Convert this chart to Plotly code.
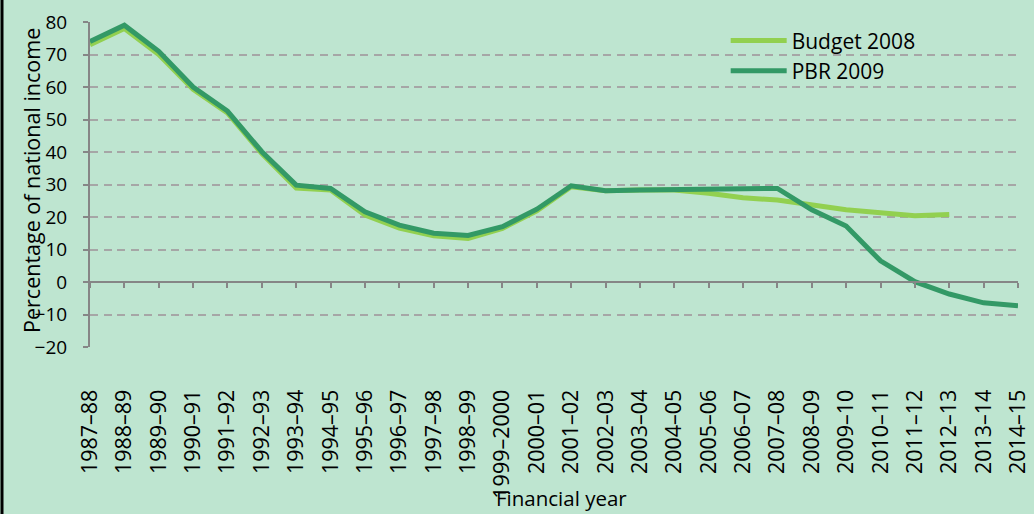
import plotly.graph_objects as go

categories = ["1987–88", "1988–89", "1989–90", "1990–91", "1991–92", "1992–93",
              "1993–94", "1994–95", "1995–96", "1996–97", "1997–98", "1998–99",
              "1999–2000", "2000–01", "2001–02", "2002–03", "2003–04", "2004–05",
              "2005–06", "2006–07", "2007–08", "2008–09", "2009–10", "2010–11",
              "2011–12", "2012–13", "2013–14", "2014–15"]

budget_2008 = [73, 78, 70, 59.3, 52, 39.5, 28.9, 28.3, 20.6, 16.6, 14.2, 13.4,
               16.5, 21.9, 29.3, 28.1, 28.3, 28.3, 27.3, 25.9, 25.2, 23.7, 22.2,
               21.3, 20.4, 20.8, None, None]

pbr_2009 = [74, 79, 71, 60, 52.6, 40.1, 29.8, 28.8, 21.6, 17.5, 15.0, 14.3,
            17.0, 22.4, 29.6, 28.1, 28.3, 28.5, 28.6, 28.7, 28.8, 22.2, 17.2,
            6.5, 0.1, -3.7, -6.4, -7.3]

y_ticks = [-20, -10, 0, 10, 20, 30, 40, 50, 60, 70, 80]

BG = "#bee5d0"
GRID = "#a6a6a6"
AXIS = "#868686"
FONT = "Open Sans"

PW = 928.0  # plot width in px
PH = 325.0  # plot height in px

n = len(categories)

fig = go.Figure()
fig.add_trace(go.Scatter(x=categories, y=budget_2008, mode="lines",
                         name="Budget 2008",
                         line=dict(color="#92d050", width=5)))
fig.add_trace(go.Scatter(x=categories, y=pbr_2009, mode="lines",
                         name="PBR 2009",
                         line=dict(color="#339966", width=5)))
# helper trace so the category-tick axis drawn on the zero line exists
fig.add_trace(go.Scatter(x=[0, n - 1], y=[0, 0], xaxis="x2", mode="lines",
                         line=dict(width=0, color="rgba(0,0,0,0)"),
                         showlegend=False, hoverinfo="skip"))

fig.update_layout(
    width=1034, height=514,
    margin=dict(l=90, r=16, t=22, b=167),
    paper_bgcolor=BG, plot_bgcolor=BG,
    font=dict(family=FONT, color="black"),
    showlegend=True,
    legend=dict(x=0.685, y=1.005, xanchor="left", yanchor="top",
                bgcolor="rgba(0,0,0,0)", font=dict(size=21, family=FONT),
                tracegroupgap=0, itemwidth=56),
    xaxis=dict(type="category", range=[0, n - 1], showgrid=False,
               showline=False, zeroline=False,
               ticks="outside", ticklen=33, tickcolor="rgba(0,0,0,0)",
               tickangle=-90, tickfont=dict(size=21.5, family=FONT),
               automargin=False),
    xaxis2=dict(type="linear", range=[0, n - 1], overlaying="x",
                anchor="free", position=0.2, side="bottom",
                showline=True, linecolor=AXIS, linewidth=2,
                ticks="outside", ticklen=5, tickwidth=2, tickcolor=AXIS,
                tick0=0, dtick=1, showticklabels=False, showgrid=False,
                zeroline=False),
    yaxis=dict(range=[-20, 80], tickvals=y_ticks, showgrid=True,
               gridcolor=GRID, gridwidth=2, griddash="8px,5.5px",
               showline=True, linecolor=AXIS, linewidth=2,
               ticks="outside", ticklen=5, tickwidth=2, tickcolor=AXIS,
               zeroline=False, tickfont=dict(size=19, family=FONT),
               ticklabelstandoff=12,
               automargin=False),
    annotations=[
        dict(text="Percentage of national income", textangle=-90,
             xref="paper", yref="paper", x=(32 - 90) / PW, y=0.511,
             xanchor="center", yanchor="middle", showarrow=False,
             font=dict(size=21.5, family=FONT)),
        dict(text="Financial year",
             xref="paper", yref="paper", x=(561 - 90) / PW,
             y=-(498 - 347) / PH,
             xanchor="center", yanchor="middle", showarrow=False,
             font=dict(size=20.5, family=FONT)),
    ],
    shapes=[dict(type="line", xref="paper", yref="paper",
                 x0=-88 / PW, x1=-88 / PW, y0=-1.0, y1=1.2,
                 line=dict(color="black", width=3))],
)

fig.write_html(
    "out.html",
    config={"displayModeBar": False},
    post_script="document.body.style.margin='0';"
                "document.body.style.overflow='hidden';"
                "document.body.style.background='" + BG + "';",
)
